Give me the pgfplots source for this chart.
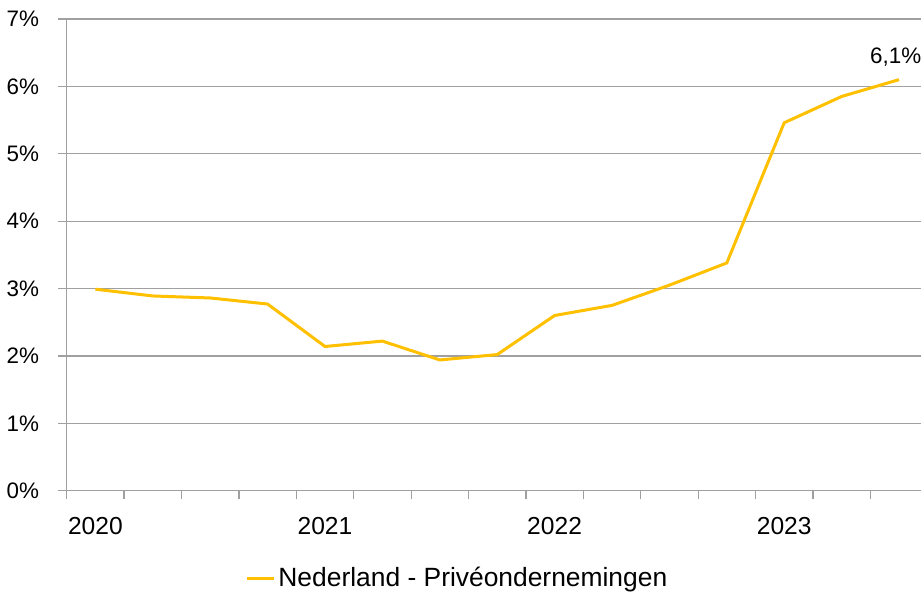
\documentclass[border=0pt]{standalone}
\usepackage{pgfplots}
\pgfplotsset{compat=1.18}
\usepackage{fontspec}
\setmainfont{Liberation Sans}
\definecolor{gold}{RGB}{255,192,0}
\definecolor{gridgray}{RGB}{160,160,160}
\begin{document}
\begin{tikzpicture}
\useasboundingbox (-33.35pt,-50.65pt) rectangle (427.15pt,245.35pt);
\clip (-33.35pt,-50.65pt) rectangle (427.15pt,245.35pt);
\begin{axis}[
  at={(0pt,0pt)}, anchor=south west,
  scale only axis,
  width=430.5pt, height=235.85pt,
  xmin=-0.5, xmax=14.5,
  ymin=0, ymax=7,
  axis lines=left,
  axis line style={-, draw=gridgray, line width=0.6pt},
  ytick={0,1,2,3,4,5,6,7},
  yticklabel={\pgfmathprintnumber{\tick}\%},
  ymajorgrids,
  grid style={draw=gridgray, line width=0.6pt},
  tick align=outside,
  major tick length=4.4pt,
  tick style={draw=gridgray, line width=0.6pt},
  xtick={-0.5,0.5,...,13.5},
  xticklabels={},
  extra x ticks={0,4,8,12},
  extra x tick labels={2020,2021,2022,2023},
  extra x tick style={major tick length=0pt, grid=none,
     xticklabel style={font=\fontsize{12.3}{14}\selectfont, anchor=base, inner sep=0pt, yshift=-21.7pt}},
  yticklabel style={font=\fontsize{11.2}{13}\selectfont, anchor=east, inner sep=0pt, xshift=-9.2pt},
  /pgf/number format/assume math mode=true,
  legend style={draw=none, fill=none, inner sep=0pt, at={(0.2071,-0.1851)}, anchor=west,
     font=\fontsize{13.2}{15}\selectfont,
     /tikz/every even column/.append style={column sep=0pt},
     nodes={inner xsep=1.5pt}},
  legend image code/.code={\draw[#1] (0pt,0pt) -- (13.5pt,0pt);},
  clip=false,
]
\addplot[gold, line width=1.5pt] coordinates {
(0,2.99) (1,2.89) (2,2.86) (3,2.77) (4,2.14) (5,2.22) (6,1.94) (7,2.02)
(8,2.60) (9,2.75) (10,3.05) (11,3.38) (12,5.46) (13,5.85) (14,6.10)
};
\addlegendentry{Nederland - Privéondernemingen}
\node[anchor=base east, inner sep=0pt, font=\fontsize{11.2}{13}\selectfont] at (axis cs:14,6.10) [xshift=11.3pt, yshift=8pt] {6,1\%};
\end{axis}
\end{tikzpicture}
\end{document}
